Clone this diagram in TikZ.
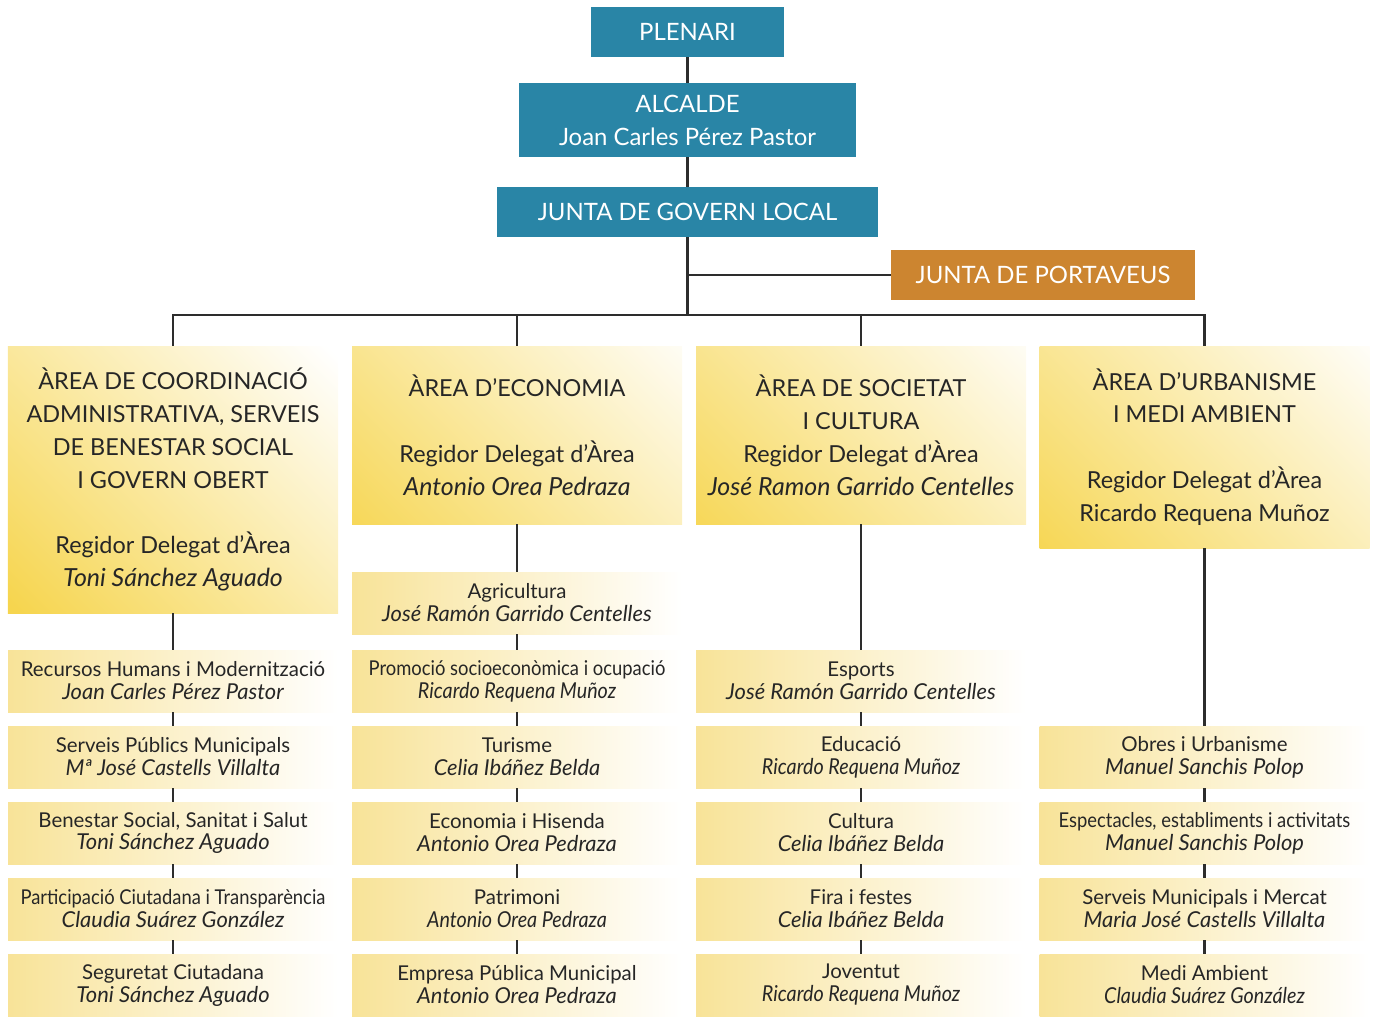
\documentclass[tikz,border=0pt]{standalone}
\usepackage{graphicx}
\usepackage{fontspec}
\setmainfont{Lato}
\usetikzlibrary{positioning,calc}

\definecolor{govteal}{RGB}{41,133,166}
\definecolor{portorange}{RGB}{204,133,48}
\definecolor{areayellow}{RGB}{246,213,78}
\definecolor{secyellow}{RGB}{248,227,152}
\definecolor{inkgray}{RGB}{38,38,38}
\definecolor{linegray}{RGB}{45,45,45}

\newcommand{\narrow}[1]{\scalebox{0.9}[1]{#1}}
\newcommand{\person}[1]{{\fontsize{22}{23}\selectfont\itshape #1}}
\newcommand{\areaperson}[1]{{\fontsize{25}{33}\selectfont\itshape #1}}

\begin{document}
\begin{tikzpicture}[x=1bp,y=-1bp,
    topbox/.style={fill=govteal,text=white,inner sep=0pt,align=center,
        font=\fontsize{24}{33}\selectfont},
    portbox/.style={topbox,fill=portorange},
    areabox/.style={fill=white,text=inkgray,inner sep=0pt,align=center,minimum width=330bp,
        font=\fontsize{23.5}{33}\selectfont,
        path picture={\shade[top color=white,bottom color=areayellow,shading angle=-45]
            ($(path picture bounding box.center)+(-205,-205)$) rectangle
            ($(path picture bounding box.center)+(205,205)$);}},
    secbox/.style={fill=white,text=inkgray,inner sep=0pt,align=center,
        minimum width=330bp,minimum height=62bp,
        font=\fontsize{20.5}{23}\selectfont,
        path picture={\shade[left color=secyellow,right color=white]
            ($(path picture bounding box.center)+(-165,-165)$) rectangle
            ($(path picture bounding box.center)+(165,165)$);}},
    link/.style={draw=linegray,line width=2.5bp}]
    \useasboundingbox (0,0) rectangle (1377,1017);

    % Government
    \node[topbox,minimum width=193bp,minimum height=50bp] (plenari) at (687.5,32) {PLENARI};
    \node[topbox,minimum width=337bp,minimum height=74bp] (alcalde) at (687.5,120) {ALCALDE\\Joan Carles Pérez Pastor};
    \node[topbox,minimum width=381bp,minimum height=50bp] (junta) at (687.5,212) {JUNTA DE GOVERN LOCAL};
    \node[portbox,minimum width=304bp,minimum height=50bp] (portaveus) at (1043,275) {JUNTA DE PORTAVEUS};
    \coordinate (bus) at (687.5,315);

    % Areas
    \node[areabox,minimum height=267bp] (area1) at (173,479.5) {ÀREA DE COORDINACIÓ\\ADMINISTRATIVA, SERVEIS\\DE BENESTAR SOCIAL\\I GOVERN OBERT\\[33bp]Regidor Delegat d’Àrea\\\areaperson{Toni Sánchez Aguado}};
    \node[areabox,minimum height=178bp] (area2) at (517,435) {ÀREA D’ECONOMIA\\[33bp]Regidor Delegat d’Àrea\\\areaperson{Antonio Orea Pedraza}};
    \node[areabox,minimum height=178bp] (area3) at (861,435) {ÀREA DE SOCIETAT\\I CULTURA\\Regidor Delegat d’Àrea\\\areaperson{José Ramon Garrido Centelles}};
    \node[areabox,minimum height=202bp] (area4) at (1204.5,447) {ÀREA D’URBANISME\\I MEDI AMBIENT\\[33bp]Regidor Delegat d’Àrea\\Ricardo Requena Muñoz};

    % Coordinació
    \node[secbox] (rrhh) at (173,681) {Recursos Humans i Modernització\\\person{Joan Carles Pérez Pastor}};
    \node[secbox] (serveis) at (173,757) {Serveis Públics Municipals\\\person{Mª José Castells Villalta}};
    \node[secbox] (benestar) at (173,833) {Benestar Social, Sanitat i Salut\\\person{Toni Sánchez Aguado}};
    \node[secbox] (participa) at (173,909) {\narrow{Participació Ciutadana i Transparència}\\\person{Claudia Suárez González}};
    \node[secbox] (seguretat) at (173,985) {Seguretat Ciutadana\\\person{Toni Sánchez Aguado}};

    % Economia
    \node[secbox] (agricultura) at (517,603) {Agricultura\\\person{José Ramón Garrido Centelles}};
    \node[secbox] (promocio) at (517,681) {\narrow{Promoció socioeconòmica i ocupació}\\\narrow{\person{Ricardo Requena Muñoz}}};
    \node[secbox] (turisme) at (517,757) {Turisme\\\person{Celia Ibáñez Belda}};
    \node[secbox] (hisenda) at (517,833) {Economia i Hisenda\\\person{Antonio Orea Pedraza}};
    \node[secbox] (patrimoni) at (517,909) {Patrimoni\\\narrow{\person{Antonio Orea Pedraza}}};
    \node[secbox] (empresa) at (517,985) {Empresa Pública Municipal\\\person{Antonio Orea Pedraza}};

    % Societat
    \node[secbox] (esports) at (861,681) {Esports\\\person{José Ramón Garrido Centelles}};
    \node[secbox] (educacio) at (861,757) {Educació\\\narrow{\person{Ricardo Requena Muñoz}}};
    \node[secbox] (cultura) at (861,833) {Cultura\\\person{Celia Ibáñez Belda}};
    \node[secbox] (fira) at (861,909) {Fira i festes\\\person{Celia Ibáñez Belda}};
    \node[secbox] (joventut) at (861,985) {Joventut\\\narrow{\person{Ricardo Requena Muñoz}}};

    % Urbanisme
    \node[secbox] (obres) at (1204.5,757) {Obres i Urbanisme\\\person{Manuel Sanchis Polop}};
    \node[secbox] (espectacles) at (1204.5,833) {\narrow{Espectacles, establiments i activitats}\\\person{Manuel Sanchis Polop}};
    \node[secbox] (mercat) at (1204.5,909) {Serveis Municipals i Mercat\\\person{Maria José Castells Villalta}};
    \node[secbox] (medi) at (1204.5,985) {Medi Ambient\\\narrow{\person{Claudia Suárez González}}};

    % Lines
    \draw[link] (plenari) -- (alcalde) -- (junta);
    \draw[link] (junta) -- (bus);
    \draw[link] (junta.south |- portaveus.west) -- (portaveus.west);
    \draw[link] (area1.north) |- (bus) -| (area4.north);
    \draw[link] (area2.north) -- (area2.north |- bus);
    \draw[link] (area3.north) -- (area3.north |- bus);
    \draw[link] (area1) -- (rrhh) -- (serveis) -- (benestar) -- (participa) -- (seguretat);
    \draw[link] (area2) -- (agricultura) -- (promocio) -- (turisme) -- (hisenda) -- (patrimoni) -- (empresa);
    \draw[link] (area3) -- (esports) -- (educacio) -- (cultura) -- (fira) -- (joventut);
    \draw[link] (area4) -- (obres) -- (espectacles) -- (mercat) -- (medi);
\end{tikzpicture}
\end{document}
